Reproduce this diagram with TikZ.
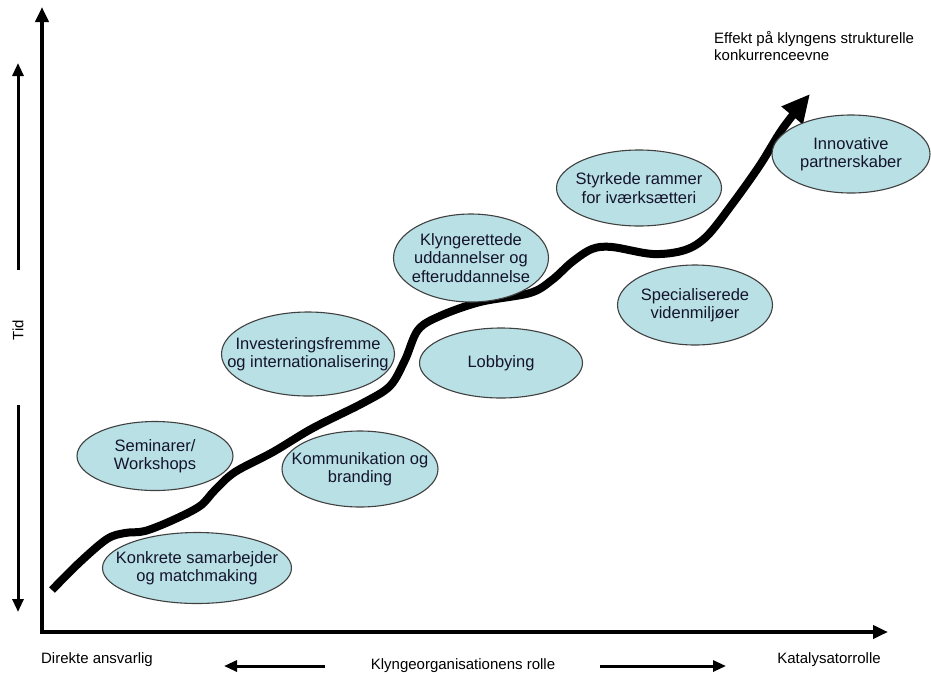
\documentclass[tikz,border=0pt]{standalone}
\usepackage{fontspec}
\setmainfont{Liberation Sans}
\usetikzlibrary{shapes.geometric,arrows.meta}
\definecolor{bobblefill}{RGB}{185,224,228}
\definecolor{bobbletext}{RGB}{20,20,45}
\begin{document}
\begin{tikzpicture}[x=1pt,y=-1pt,
  bobble/.style={ellipse,draw=black!75,line width=1.1pt,fill=bobblefill,inner sep=0pt},
  bobbletxt/.style={text=bobbletext,inner sep=0pt,align=center,font=\fontsize{16.5}{18.5}\selectfont},
  lbl/.style={font=\fontsize{15}{17}\selectfont,inner sep=0pt},
  tidarrow/.style={line width=3pt,-{Triangle[length=13pt,width=11pt]}}]
\useasboundingbox (0,0) rectangle (931,673);

% axes
\coordinate (O) at (42,632); \coordinate (Y) at (42,7); \coordinate (X) at (888,632);
\draw[line width=4pt,{Triangle[length=15pt,width=13pt]}-{Triangle[length=15pt,width=13pt]}]
  (Y) -- (O) -- (X);

% time
\node[lbl,rotate=90] (T) at (18,330) {Tid};
\coordinate (T1) at (18,270); \coordinate (T2) at (18,63);
\coordinate (T3) at (18,405); \coordinate (T4) at (18,612);
\draw[tidarrow] (T1) -- (T2); \draw[tidarrow] (T3) -- (T4);

% role
\node[lbl] (D) at (97,660) {Direkte ansvarlig};
\node[lbl] (K) at (463,666) {Klyngeorganisationens rolle};
\node[lbl] (C) at (829,660) {Katalysatorrolle};
\coordinate (L1) at (325,666); \coordinate (L2) at (224,666);
\coordinate (R1) at (600,666); \coordinate (R2) at (726,666);
\draw[tidarrow] (L1) -- (L2); \draw[tidarrow] (R1) -- (R2);

\node[lbl,align=left,anchor=north west] (E) at (714,31)
  {Effekt på klyngens strukturelle\\konkurrenceevne};

% the curve
\draw[line width=8pt,-{Triangle[length=28pt,width=26pt]}] plot[smooth,tension=0.55]
  coordinates {(52,590) (80,562) (107,539) (125,533) (145,531) (173,520) (200,506)
  (215,490) (235,472) (273,452) (313,428) (363,403) (390,386) (405,360) (418,330)
  (440,316) (480,302) (530,293) (552,280) (572,262) (592,249) (612,247) (653,254)
  (685,250) (707,236) (733,203) (760,165) (783,128) (810,94)};

% activities
\node[bobble,minimum width=189pt,minimum height=71pt] (A1) at (197,568) {};
\node[bobbletxt] (A1t) at (A1) {Konkrete samarbejder\\og matchmaking};
\node[bobble,minimum width=156pt,minimum height=69pt] (A2) at (155,456) {};
\node[bobbletxt] (A2t) at (A2) {Seminarer/\\Workshops};
\node[bobble,minimum width=156pt,minimum height=76pt] (A3) at (360,469) {};
\node[bobbletxt] (A3t) at (A3) {Kommunikation og\\branding};
\node[bobble,minimum width=173pt,minimum height=84pt] (A4) at (308,354) {};
\node[bobbletxt] (A4t) at (A4) {Investeringsfremme\\og internationalisering};
\node[bobble,minimum width=163pt,minimum height=70pt] (A5) at (501,363) {};
\node[bobbletxt] (A5t) at (A5) {Lobbying};
\node[bobble,minimum width=155pt,minimum height=88pt] (A6) at (471,258) {};
\node[bobbletxt] (A6t) at (A6) {Klyngerettede\\uddannelser og\\efteruddannelse};
\node[bobble,minimum width=165pt,minimum height=76pt] (A7) at (639,188) {};
\node[bobbletxt] (A7t) at (A7) {Styrkede rammer\\for iværksætteri};
\node[bobble,minimum width=155pt,minimum height=80pt] (A8) at (695,305) {};
\node[bobbletxt] (A8t) at (A8) {Specialiserede\\videnmiljøer};
\node[bobble,minimum width=158pt,minimum height=78pt] (A9) at (851,154) {};
\node[bobbletxt] (A9t) at (A9) {Innovative\\partnerskaber};
\end{tikzpicture}
\end{document}
